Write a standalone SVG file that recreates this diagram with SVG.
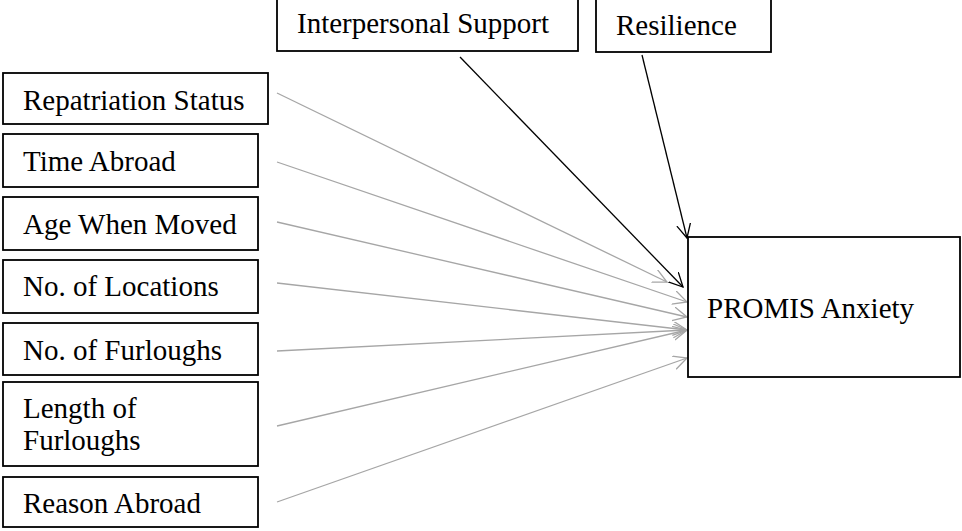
<svg xmlns="http://www.w3.org/2000/svg" width="962" height="531" viewBox="0 0 962 531">
<style>
.box{fill:#fff;stroke:#000;stroke-width:1.8}
.t{font-family:"Liberation Serif","Times New Roman",serif;font-size:29px;fill:#000}
.g{stroke:#a6a6a6;stroke-width:1.3;fill:none}
.k{stroke:#000;stroke-width:1.3;fill:none}
</style>
<defs>
<marker id="ag" markerUnits="userSpaceOnUse" markerWidth="20" markerHeight="20" refX="14" refY="7" orient="auto" viewBox="0 0 20 20">
<path d="M0,0 L14,7 L0,14" fill="none" stroke="#a6a6a6" stroke-width="1.3"/>
</marker>
<marker id="ak" markerUnits="userSpaceOnUse" markerWidth="20" markerHeight="20" refX="14" refY="7" orient="auto" viewBox="0 0 20 20">
<path d="M0,0 L14,7 L0,14" fill="none" stroke="#000" stroke-width="1.3"/>
</marker>
</defs>
<g id="connectors">
<line class="g" x1="277" y1="93" x2="667" y2="282" marker-end="url(#ag)"/>
<line class="g" x1="277" y1="162" x2="687" y2="302" marker-end="url(#ag)"/>
<line class="g" x1="277" y1="222" x2="687" y2="317" marker-end="url(#ag)"/>
<line class="g" x1="277" y1="283" x2="687" y2="330" marker-end="url(#ag)"/>
<line class="g" x1="277" y1="351" x2="687" y2="330" marker-end="url(#ag)"/>
<line class="g" x1="277" y1="426" x2="687" y2="330" marker-end="url(#ag)"/>
<line class="g" x1="277" y1="502" x2="687" y2="358" marker-end="url(#ag)"/>
<line class="k" x1="460" y1="57" x2="683" y2="287" marker-end="url(#ak)"/>
<line class="k" x1="642" y1="55" x2="687" y2="238" marker-end="url(#ak)"/>
</g>
<g id="interpersonal"><rect class="box" x="277" y="-2" width="301" height="53"/><text class="t" x="297" y="33">Interpersonal Support</text></g>
<g id="resilience"><rect class="box" x="596" y="-2" width="175" height="54"/><text class="t" x="616" y="35">Resilience</text></g>
<g id="repatriation"><rect class="box" x="3" y="73" width="265" height="51"/><text class="t" x="23" y="110">Repatriation Status</text></g>
<g id="time"><rect class="box" x="3" y="134" width="255" height="53"/><text class="t" x="23" y="171">Time Abroad</text></g>
<g id="age"><rect class="box" x="3" y="197" width="255" height="53"/><text class="t" x="23" y="234">Age When Moved</text></g>
<g id="locations"><rect class="box" x="3" y="260" width="255" height="53"/><text class="t" x="23" y="296">No. of Locations</text></g>
<g id="furloughs"><rect class="box" x="3" y="323" width="255" height="52"/><text class="t" x="23" y="360">No. of Furloughs</text></g>
<g id="length"><rect class="box" x="3" y="382" width="255" height="84"/><text class="t" x="23" y="418">Length of</text><text class="t" x="23" y="450">Furloughs</text></g>
<g id="reason"><rect class="box" x="3" y="477" width="255" height="50"/><text class="t" x="23" y="513">Reason Abroad</text></g>
<g id="promis"><rect class="box" x="688" y="237" width="272" height="140"/><text class="t" x="707" y="318">PROMIS Anxiety</text></g>
</svg>
